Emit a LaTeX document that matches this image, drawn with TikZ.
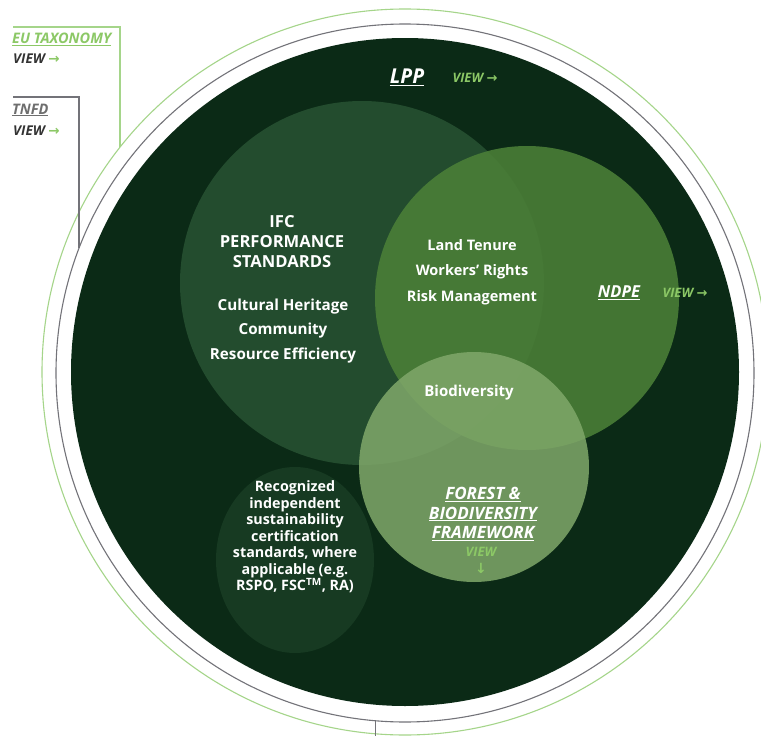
\documentclass[tikz,border=0pt]{standalone}
\usepackage{fontspec}
\setmainfont{Open Sans}
\newfontfamily\arrowfont{DejaVu Sans}
\usetikzlibrary{shapes.geometric}
\definecolor{bgdark}{HTML}{0B2A16}
\definecolor{ifcgreen}{HTML}{234C2E}
\definecolor{ndpegreen}{HTML}{4A7E37}
\definecolor{forestgreen}{HTML}{80A86A}
\definecolor{recoggreen}{HTML}{173A22}
\definecolor{viewgreen}{HTML}{8CC866}
\definecolor{ringgreen}{HTML}{A5D58A}
\definecolor{ringgrey}{HTML}{737379}
\definecolor{txtgrey}{HTML}{6E6E6E}
\definecolor{txtdark}{HTML}{333333}
\tikzset{
  blob/.style={circle, inner sep=0pt, outer sep=0pt},
  wtext/.style={text=white, align=center, inner sep=0pt, font=\bfseries},
  linktext/.style={inner sep=0pt, font=\bfseries\itshape},
  greenline/.style={draw=ringgreen, line width=1.1pt},
  greyline/.style={draw=ringgrey, line width=1.1pt},
}
\newcommand{\rarr}{{\arrowfont\bfseries →}}
\newcommand{\darr}{{\arrowfont\bfseries ↓}}
\begin{document}
\begin{tikzpicture}[x=1pt,y=-1pt]
\useasboundingbox (0,0) rectangle (761,736);
\fill[white] (0,0) rectangle (761,736);
% rings
\node[blob, draw=ringgreen, line width=1.1pt, minimum size=726pt] (ringG) at (405,372) {};
\node[blob, draw=ringgrey, line width=1.1pt, minimum size=698pt] (ringK) at (405,373) {};
\node[blob, fill=bgdark, minimum size=668pt] (lpp) at (405,372) {};
% inner circles
\node[blob, fill=ifcgreen, minimum size=364pt] (ifc) at (362,283) {};
\node[blob, fill=ndpegreen, fill opacity=0.9, minimum size=304pt] (ndpe) at (527,298) {};
\node[blob, fill=forestgreen, fill opacity=0.85, minimum size=230pt] (forest) at (474,467) {};
\node[ellipse, inner sep=0pt, fill=recoggreen, minimum width=158pt, minimum height=186pt] (recog) at (295,560) {};
% connectors to left labels
\coordinate (eu0) at (13,27);
\coordinate (eu1) at (120,27);
\coordinate (eu2) at (120,147);
\draw[greenline] (eu0) -- (eu1) -- (eu2);
\coordinate (tn0) at (13,97);
\coordinate (tn1) at (79,97);
\coordinate (tn2) at (79,248);
\draw[greyline] (tn0) -- (tn1) -- (tn2);
\coordinate (bt0) at (375,721);
\coordinate (bt1) at (375,736);
\draw[greyline, line width=0.8pt] (bt0) -- (bt1);
% left labels
\node[linktext, anchor=west, text=viewgreen, font=\bfseries\itshape\fontsize{14.5}{16}\selectfont] (eutax) at (12,39) {\underline{EU TAXONOMY}};
\node[linktext, anchor=west, text=txtdark, font=\bfseries\itshape\fontsize{13.5}{15}\selectfont] (euview) at (13,59) {VIEW \textcolor{viewgreen}{\rarr}};
\node[linktext, anchor=west, text=txtgrey, font=\bfseries\itshape\fontsize{14.5}{16}\selectfont] (tnfd) at (12,110) {\underline{TNFD}};
\node[linktext, anchor=west, text=txtdark, font=\bfseries\itshape\fontsize{13.5}{15}\selectfont] (tnview) at (13,131) {VIEW \textcolor{viewgreen}{\rarr}};
% LPP
\node[linktext, text=white, font=\bfseries\itshape\fontsize{20.5}{22}\selectfont] (lpplab) at (407,77) {\underline{LPP}};
\node[linktext, text=viewgreen, font=\bfseries\itshape\fontsize{13}{15}\selectfont] (lppview) at (475,78) {VIEW \rarr};
% IFC
\node[wtext, font=\bfseries\fontsize{16.6}{20}\selectfont] (ifctitle) at (282,242) {IFC\\PERFORMANCE\\STANDARDS};
\node[wtext, font=\bfseries\fontsize{15.2}{24.5}\selectfont] (ifcitems) at (283,331) {Cultural Heritage\\Community\\Resource Efficiency};
% overlap IFC/NDPE
\node[wtext, font=\bfseries\fontsize{14.5}{25.5}\selectfont] (shared) at (472,272) {Land Tenure\\Workers’ Rights\\Risk Management};
% NDPE
\node[linktext, text=white, font=\bfseries\itshape\fontsize{16.5}{18}\selectfont] (ndpelab) at (619,293) {\underline{NDPE}};
\node[linktext, text=viewgreen, font=\bfseries\itshape\fontsize{13}{15}\selectfont] (ndpeview) at (685,293) {VIEW \rarr};
% Biodiversity
\node[wtext, font=\bfseries\fontsize{15}{17}\selectfont] (biodiv) at (469,393) {Biodiversity};
% Forest
\node[linktext, text=white, align=center, font=\bfseries\itshape\fontsize{17}{19.5}\selectfont] (forestlab) at (483,514) {\underline{FOREST \&}\\\underline{BIODIVERSITY}\\\underline{FRAMEWORK}};
\node[linktext, text=viewgreen, font=\bfseries\itshape\fontsize{13}{15}\selectfont] (forestview) at (481,552) {VIEW};
\node[inner sep=0pt, text=viewgreen, font=\fontsize{14}{15}\selectfont] (forestarr) at (481,568) {\darr};
% Recognized
\node[wtext, font=\bfseries\fontsize{14.3}{16.5}\selectfont] (recogtext) at (295,537) {Recognized\\independent\\sustainability\\certification\\standards, where\\applicable (e.g.\\RSPO, FSC\textsuperscript{TM}, RA)};
\end{tikzpicture}
\end{document}
